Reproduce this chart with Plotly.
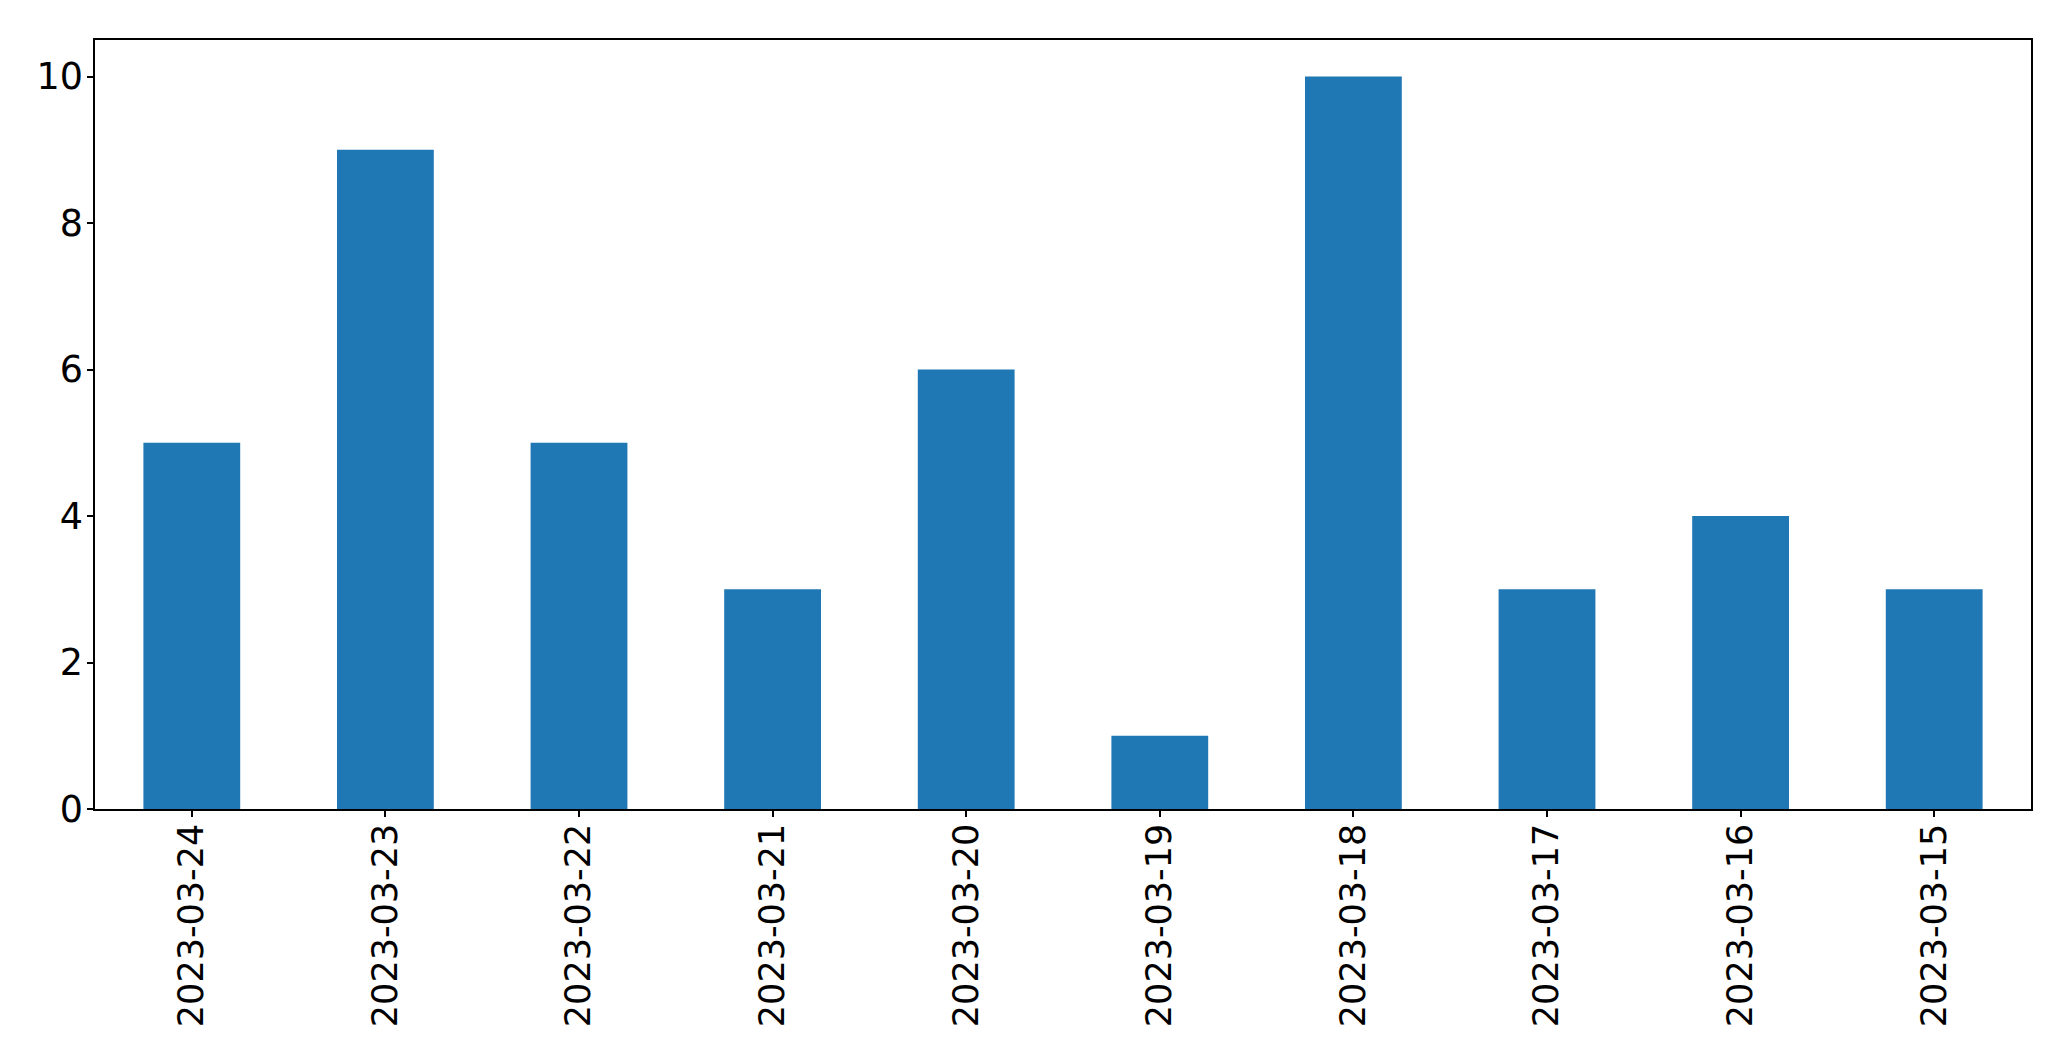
import plotly.graph_objects as go

dates = ["2023-03-24", "2023-03-23", "2023-03-22", "2023-03-21", "2023-03-20",
         "2023-03-19", "2023-03-18", "2023-03-17", "2023-03-16", "2023-03-15"]
counts = [5, 9, 5, 3, 6, 1, 10, 3, 4, 3]
y_ticks = [0, 2, 4, 6, 8, 10]

fig = go.Figure(go.Bar(x=dates, y=counts, marker_color="#1f77b4", marker_line_width=0, width=0.5))

# page body has an 8px margin; compensate so plot area lands where the reference has it
fig.update_layout(
    width=2055, height=1045,
    margin=dict(l=86.5, r=31.5, t=31.5, b=244),
    paper_bgcolor="white", plot_bgcolor="white",
    font=dict(family="DejaVu Sans", size=35, color="black"),
    showlegend=False,
)
fig.update_xaxes(type="category", range=[-0.5, 9.5], tickangle=-90,
                 tickfont=dict(size=35), ticklabelstandoff=-7,
                 showline=True, linecolor="black", linewidth=1.5, mirror=True,
                 ticks="outside", ticklen=6, tickwidth=1.5, tickcolor="black",
                 showgrid=False, zeroline=False)
fig.update_yaxes(range=[0, 10.5], tickvals=y_ticks, tickfont=dict(size=36.5),
                 ticklabelstandoff=-3,
                 showline=True, linecolor="black", linewidth=1.5, mirror=True,
                 ticks="outside", ticklen=6, tickwidth=1.5, tickcolor="black",
                 showgrid=False, zeroline=False)

fig.write_html("out.html")
